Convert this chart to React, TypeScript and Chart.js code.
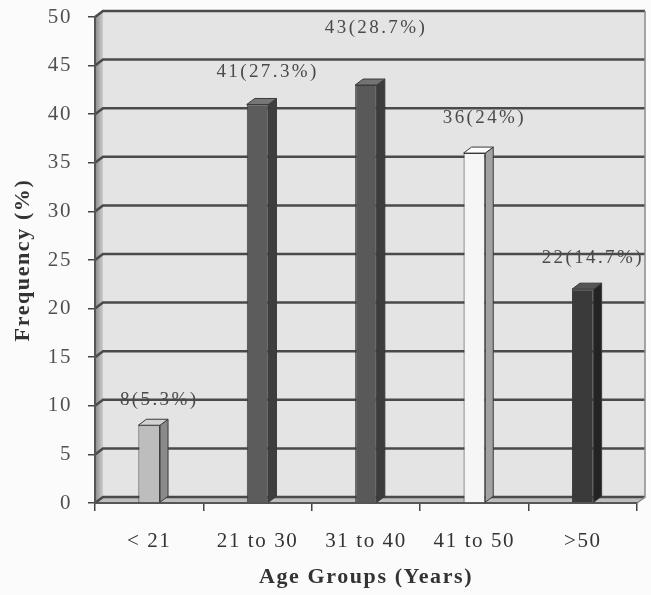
import React, { useEffect, useRef } from "react";
import { Chart, registerables } from "chart.js";

Chart.register(...registerables);

// ---- data ----
const categories = ["< 21", "21 to 30", "31 to 40", "41 to 50", ">50"];
const counts = [8, 41, 43, 36, 22];
const percents = ["5.3", "27.3", "28.7", "24", "14.7"];
const yMin = 0;
const yMax = 50;
const yStep = 5;

// ---- styles ----
const frontColors = ["#bdbdbd", "#5c5c5c", "#595959", "#f6f6f6", "#3a3a3a"];
const sideColors = ["#8a8a8a", "#3e3e3e", "#3c3c3c", "#a2a2a2", "#232323"];
const topColors = ["#d2d2d2", "#777777", "#737373", "#fdfdfd", "#555555"];
const labelLift = [25, 32, 57, 35, 31];

const SERIF = '"Liberation Serif", "Times New Roman", serif';
const DX = 8;
const DY = -6;
const SPACING = "1.6px";

function setSpacing(chart: any) {
  try {
    (chart.ctx as any).letterSpacing = SPACING;
  } catch (e) {}
}

const decorPlugin = {
  id: "decor3d",
  beforeUpdate(chart: any) {
    setSpacing(chart);
  },
  beforeLayout(chart: any) {
    setSpacing(chart);
  },
  beforeDraw(chart: any) {
    setSpacing(chart);
    const ctx = chart.ctx;
    const { left: L, right: R, top: T, bottom: B } = chart.chartArea;
    const y = chart.scales.y;
    ctx.save();
    ctx.fillStyle = "#fbfbfb";
    ctx.fillRect(0, 0, chart.width, chart.height);
    // back wall
    ctx.fillStyle = "#e4e4e4";
    ctx.fillRect(L + DX, T + DY, R - L, B - T);
    // left side wall
    const g = ctx.createLinearGradient(L, 0, L + DX, 0);
    g.addColorStop(0, "#8a8a8a");
    g.addColorStop(1, "#cdcdcd");
    ctx.fillStyle = g;
    ctx.beginPath();
    ctx.moveTo(L, T);
    ctx.lineTo(L + DX, T + DY);
    ctx.lineTo(L + DX, B + DY);
    ctx.lineTo(L, B);
    ctx.closePath();
    ctx.fill();
    // floor
    ctx.fillStyle = "#bdbdbd";
    ctx.beginPath();
    ctx.moveTo(L, B);
    ctx.lineTo(L + DX, B + DY);
    ctx.lineTo(R + DX, B + DY);
    ctx.lineTo(R, B);
    ctx.closePath();
    ctx.fill();
    // gridlines on back wall
    ctx.strokeStyle = "#4a4a4a";
    ctx.lineWidth = 2.5;
    y.ticks.forEach((t: any) => {
      const py = y.getPixelForValue(t.value);
      ctx.beginPath();
      ctx.moveTo(L, py);
      ctx.lineTo(L + DX, py + DY);
      ctx.lineTo(R + DX, py + DY);
      ctx.stroke();
    });
    // wall right edge
    ctx.strokeStyle = "#8a8a8a";
    ctx.lineWidth = 1.5;
    ctx.beginPath();
    ctx.moveTo(R + DX, T + DY);
    ctx.lineTo(R + DX, B + DY);
    ctx.lineTo(R, B);
    ctx.stroke();
    ctx.restore();
  },
  afterDatasetsDraw(chart: any) {
    const ctx = chart.ctx;
    const meta = chart.getDatasetMeta(0);
    ctx.save();
    meta.data.forEach((el: any, i: number) => {
      const { x, y, base, width } = el.getProps(["x", "y", "base", "width"], true);
      const xl = x - width / 2;
      const xr = x + width / 2;
      // side face
      ctx.fillStyle = sideColors[i];
      ctx.strokeStyle = "#3a3a3a";
      ctx.lineWidth = 1;
      ctx.beginPath();
      ctx.moveTo(xr, y);
      ctx.lineTo(xr + DX, y + DY);
      ctx.lineTo(xr + DX, base + DY);
      ctx.lineTo(xr, base);
      ctx.closePath();
      ctx.fill();
      ctx.stroke();
      // top face
      ctx.fillStyle = topColors[i];
      ctx.beginPath();
      ctx.moveTo(xl, y);
      ctx.lineTo(xl + DX, y + DY);
      ctx.lineTo(xr + DX, y + DY);
      ctx.lineTo(xr, y);
      ctx.closePath();
      ctx.fill();
      ctx.stroke();
      // label
      (ctx as any).letterSpacing = "2.4px";
      ctx.font = `19px ${SERIF}`;
      ctx.fillStyle = "#4a4a4a";
      ctx.textAlign = "center";
      ctx.textBaseline = "middle";
      ctx.fillText(`${counts[i]}(${percents[i]}%)`, x + 10, y - labelLift[i]);
    });
    ctx.restore();
  },
};

export default function App() {
  const ref = useRef<HTMLCanvasElement | null>(null);

  useEffect(() => {
    if (!ref.current) return;
    const chart = new Chart(ref.current, {
      type: "bar",
      data: {
        labels: categories,
        datasets: [
          {
            data: counts,
            backgroundColor: frontColors,
            borderColor: "#3a3a3a",
            borderWidth: 1,
            barPercentage: 0.2,
            categoryPercentage: 1,
          },
        ],
      },
      options: {
        responsive: false,
        animation: false,
        devicePixelRatio: 1,
        layout: { padding: { top: 17, right: 14, left: 0, bottom: 0 } },
        plugins: {
          legend: { display: false },
          tooltip: { enabled: false },
        },
        scales: {
          x: {
            grid: {
              display: true,
              drawOnChartArea: false,
              drawTicks: true,
              tickLength: 8,
              color: "#444",
              lineWidth: 1.5,
              offset: true,
            },
            border: { display: true, color: "#555", width: 2 },
            ticks: {
              font: { family: SERIF, size: 21 },
              color: "#333",
              padding: 18,
              maxRotation: 0,
            },
            title: {
              display: true,
              text: "Age Groups (Years)",
              font: { family: SERIF, size: 22, weight: "bold" },
              color: "#333",
              padding: { top: 0, bottom: 4 },
            },
            afterFit: (s: any) => {
              s.height = 92;
              s.paddingLeft = 0;
              s.paddingRight = 0;
            },
          },
          y: {
            min: yMin,
            max: yMax,
            ticks: {
              stepSize: yStep,
              font: { family: SERIF, size: 21 },
              color: "#505050",
              padding: 16,
            },
            grid: {
              drawOnChartArea: false,
              drawTicks: true,
              tickLength: 7,
              color: "#444",
              lineWidth: 1.5,
            },
            border: { display: true, color: "#555", width: 2 },
            title: {
              display: true,
              text: "Frequency (%)",
              font: { family: SERIF, size: 22, weight: "bold" },
              color: "#333",
              padding: { top: 10, bottom: 0 },
            },
            afterFit: (s: any) => {
              s.width = 95;
              s.paddingTop = 0;
              s.paddingBottom = 0;
            },
          },
        },
      } as any,
      plugins: [decorPlugin],
    });
    return () => chart.destroy();
  }, []);

  return (
    <div style={{ position: "absolute", left: 0, top: 0, width: 651, height: 595 }}>
      <canvas ref={ref} width={651} height={595} style={{ display: "block" }} />
    </div>
  );
}
